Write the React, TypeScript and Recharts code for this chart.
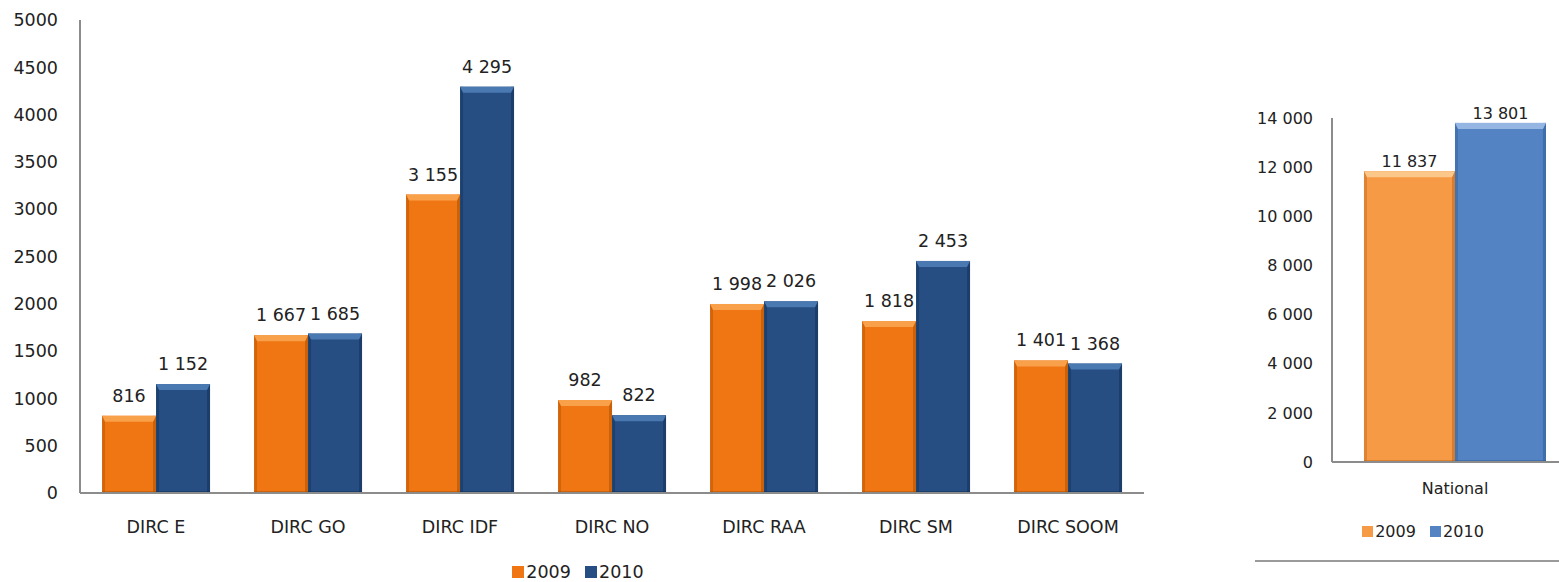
import React from 'react';
import { BarChart, Bar, XAxis, YAxis, LabelList } from 'recharts';

const categories = ['DIRC E', 'DIRC GO', 'DIRC IDF', 'DIRC NO', 'DIRC RAA', 'DIRC SM', 'DIRC SOOM'];
const values2009 = [816, 1667, 3155, 982, 1998, 1818, 1401];
const values2010 = [1152, 1685, 4295, 822, 2026, 2453, 1368];
const leftTicks = [0, 500, 1000, 1500, 2000, 2500, 3000, 3500, 4000, 4500, 5000];

const nationalCategories = ['National'];
const national2009 = [11837];
const national2010 = [13801];
const rightTicks = [0, 2000, 4000, 6000, 8000, 10000, 12000, 14000];

const seriesNames = ['2009', '2010'];

const data = categories.map((c, i) => ({ name: c, y2009: values2009[i], y2010: values2010[i] }));
const nationalData = nationalCategories.map((c, i) => ({ name: c, y2009: national2009[i], y2010: national2010[i] }));

const fmt = (v: any) => String(v).replace(/\B(?=(\d{3})+(?!\d))/g, ' ');

const FONT = '"DejaVu Sans", Verdana, sans-serif';

function makeBevel(fill: string, light: string, dark: string) {
  return (props: any) => {
    const { x, y, width, height } = props;
    if (!height || height <= 0) return null;
    const b = Math.min(6, height / 2, width / 4);
    const s = Math.min(3, width / 6);
    return (
      <g>
        <rect x={x} y={y} width={width} height={height} fill={fill} />
        <rect x={x} y={y} width={s} height={height} fill={dark} opacity={0.35} />
        <rect x={x + width - s} y={y} width={s} height={height} fill={dark} opacity={0.45} />
        <polygon
          points={`${x},${y} ${x + width},${y} ${x + width - s},${y + b} ${x + s},${y + b}`}
          fill={light}
        />
        <rect x={x} y={y + height - 2} width={width} height={2} fill={dark} opacity={0.4} />
      </g>
    );
  };
}

const leftOrange = '#EF7613';
const leftNavy = '#264E82';
const rightOrange = '#F79A45';
const rightBlue = '#5383C3';

const LegendItem = ({ color, label, fontSize }: any) => (
  <span style={{ display: 'inline-flex', alignItems: 'center', marginRight: 14 }}>
    <span style={{ display: 'inline-block', width: fontSize * 0.7, height: fontSize * 0.7, background: color, marginRight: 2 }} />
    <span>{label}</span>
  </span>
);

export default function App() {
  return (
    <div style={{ position: 'absolute', left: 0, top: 0, width: 1559, height: 582, background: '#fff', overflow: 'hidden', fontFamily: FONT }}>
      <div style={{ position: 'absolute', left: 0, top: 0 }}>
        <BarChart
          width={1200}
          height={582}
          data={data}
          margin={{ top: 20, right: 56, bottom: 0, left: 0 }}
          barCategoryGap="14.5%"
          barGap={0}
        >
          <XAxis
            dataKey="name"
            axisLine={{ stroke: '#8c8c8c', strokeWidth: 2 }}
            tickLine={false}
            tickSize={0}
            tickMargin={28}
            tick={{ fill: '#222', fontSize: 17.5, fontFamily: FONT }}
            height={89}
            interval={0}
          />
          <YAxis
            domain={[0, 5000]}
            ticks={leftTicks}
            axisLine={{ stroke: '#8c8c8c', strokeWidth: 2 }}
            tickLine={false}
            tickSize={0}
            tickMargin={22}
            width={80}
            tick={{ fill: '#222', fontSize: 17.5, fontFamily: FONT }}
            interval={0}
          />
          <Bar dataKey="y2009" name={seriesNames[0]} fill={leftOrange} isAnimationActive={false} shape={makeBevel(leftOrange, '#F9A04A', '#9c4700')}>
            <LabelList dataKey="y2009" position="top" offset={14} formatter={fmt} style={{ fill: '#222', fontSize: 17.5, fontFamily: FONT }} />
          </Bar>
          <Bar dataKey="y2010" name={seriesNames[1]} fill={leftNavy} isAnimationActive={false} shape={makeBevel(leftNavy, '#4A78B0', '#0f2a4c')}>
            <LabelList dataKey="y2010" position="top" offset={14} formatter={fmt} style={{ fill: '#222', fontSize: 17.5, fontFamily: FONT }} />
          </Bar>
        </BarChart>
      </div>
      <div style={{ position: 'absolute', left: 512, top: 562, fontSize: 17.5, color: '#222', display: 'flex', whiteSpace: 'nowrap' }}>
        <LegendItem color={leftOrange} label={seriesNames[0]} fontSize={17.5} />
        <LegendItem color={leftNavy} label={seriesNames[1]} fontSize={17.5} />
      </div>

      <div style={{ position: 'absolute', left: 1240, top: 0, width: 319, height: 582, overflow: 'hidden' }}>
        <BarChart
          width={338}
          height={582}
          data={nationalData}
          margin={{ top: 118, right: 0, bottom: 0, left: 0 }}
          barCategoryGap="13%"
          barGap={0}
        >
          <XAxis
            dataKey="name"
            axisLine={{ stroke: '#8c8c8c', strokeWidth: 2 }}
            tickLine={false}
            tickSize={0}
            tickMargin={21}
            tick={{ fill: '#222', fontSize: 16, fontFamily: FONT }}
            height={120}
          />
          <YAxis
            domain={[0, 14000]}
            ticks={rightTicks}
            tickFormatter={fmt}
            axisLine={{ stroke: '#8c8c8c', strokeWidth: 2 }}
            tickLine={false}
            tickSize={0}
            tickMargin={19}
            width={92}
            tick={{ fill: '#222', fontSize: 16, fontFamily: FONT }}
            interval={0}
          />
          <Bar dataKey="y2009" name={seriesNames[0]} fill={rightOrange} isAnimationActive={false} shape={makeBevel(rightOrange, '#FBC88A', '#b05a10')}>
            <LabelList dataKey="y2009" position="top" offset={4} formatter={fmt} style={{ fill: '#222', fontSize: 16, fontFamily: FONT }} />
          </Bar>
          <Bar dataKey="y2010" name={seriesNames[1]} fill={rightBlue} isAnimationActive={false} shape={makeBevel(rightBlue, '#95B6E2', '#2a5590')}>
            <LabelList dataKey="y2010" position="top" offset={4} formatter={fmt} style={{ fill: '#222', fontSize: 16, fontFamily: FONT }} />
          </Bar>
        </BarChart>
      </div>
      <div style={{ position: 'absolute', left: 1362, top: 522, fontSize: 16, color: '#222', display: 'flex', whiteSpace: 'nowrap' }}>
        <LegendItem color={rightOrange} label={seriesNames[0]} fontSize={16} />
        <LegendItem color={rightBlue} label={seriesNames[1]} fontSize={16} />
      </div>
      <div style={{ position: 'absolute', left: 1255, top: 560, width: 304, height: 0, borderTop: '2px solid #9a9a9a' }} />
    </div>
  );
}
